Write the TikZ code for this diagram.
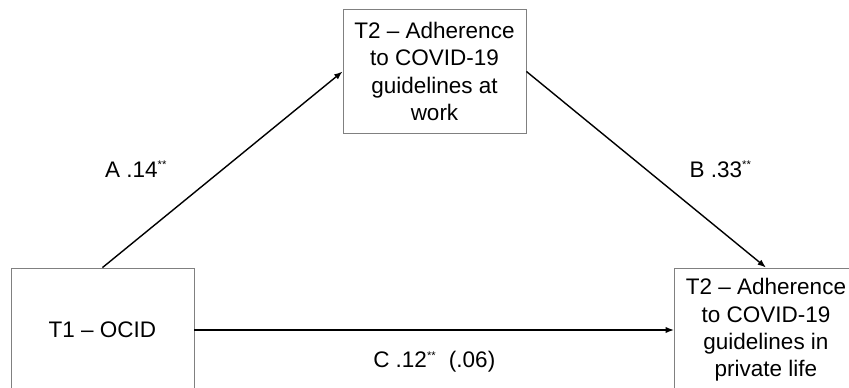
\documentclass[tikz,border=0pt]{standalone}
\usepackage{fontspec}
\setmainfont{Liberation Sans}
\usetikzlibrary{arrows.meta}

\newcommand{\sig}{\textsuperscript{\fontsize{8}{8}\selectfont **}}

\begin{document}
\begin{tikzpicture}[x=0.025cm, y=0.025cm,
  varbox/.style={draw=gray, line width=0.6pt, minimum width=4.575cm, minimum height=3.1cm, align=center, inner sep=0pt, font=\fontsize{16}{19.5}\selectfont},
  arr/.style={-{Latex[length=6pt,width=4.5pt]}, line width=1pt},
  coef/.style={font=\fontsize{16}{19.5}\selectfont}]
\useasboundingbox (0,0) rectangle (849,388);
\node[varbox] (OCID) at (102.5,58) {T1 -- OCID};
\node[varbox] (work) at (434.5,316.5) {T2 -- Adherence\\to COVID-19\\guidelines at\\work};
\node[varbox] (life) at (766,58) {T2 -- Adherence\\to COVID-19\\guidelines in\\private life};
\draw [arr] (OCID.north) -- node[coef, pos=0.5, left=1.25cm] {A .14\sig} (work.west);
\draw [arr] (work.east) -- node[coef, pos=0.5, right=0.95cm] {B .33\sig} (life.north);
\draw [arr] (OCID.east) -- node[coef, pos=0.5, below=0.4cm] {C .12\sig\ \ (.06)} (life.west);
\end{tikzpicture}
\end{document}
